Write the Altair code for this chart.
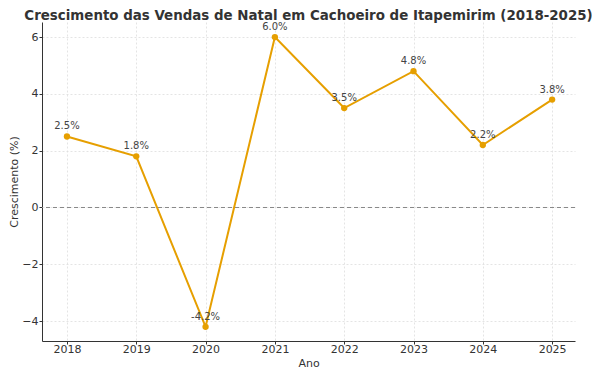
import altair as alt
import pandas as pd

anos = [2018, 2019, 2020, 2021, 2022, 2023, 2024, 2025]
crescimento = [2.5, 1.8, -4.2, 6.0, 3.5, 4.8, 2.2, 3.8]
rotulos = ["2.5%", "1.8%", "-4.2%", "6.0%", "3.5%", "4.8%", "2.2%", "3.8%"]

df = pd.DataFrame({"Ano": anos, "Crescimento": crescimento, "Rotulo": rotulos})
zero = pd.DataFrame({"y": [0]})

COR = "#E69F00"
FONT = "DejaVu Sans"

x = alt.X("Ano:Q", scale=alt.Scale(domain=[2017.64, 2025.33], nice=False, zero=False),
          axis=alt.Axis(values=anos, format="d", title="Ano", labelPadding=-1,
                        titleY=22.5, titleBaseline="middle"))
y = alt.Y("Crescimento:Q", scale=alt.Scale(domain=[-4.70, 6.53], nice=False, zero=False),
          axis=alt.Axis(values=[-4, -2, 0, 2, 4, 6], title="Crescimento (%)",
                        titleX=-28, titleBaseline="middle",
                        labelExpr="replace(datum.label, '-', '−')"))

base = alt.Chart(df)

linha = base.mark_line(color=COR, strokeWidth=2).encode(x=x, y=y)
pontos = base.mark_circle(color=COR, size=40, opacity=1).encode(x=x, y=y)
textos = base.mark_text(dy=-10, fontSize=10, color="#444444", font=FONT).encode(
    x=x, y=y, text="Rotulo:N")
regra = alt.Chart(zero).mark_rule(color="#888888", strokeDash=[4, 3], strokeWidth=1).encode(
    y=alt.Y("y:Q"))

chart = alt.layer(regra, linha, pontos, textos).properties(
    width=533,
    height=319,
    title=alt.TitleParams(
        "Crescimento das Vendas de Natal em Cachoeiro de Itapemirim (2018-2025)",
        fontSize=13.4, fontWeight="bold", font=FONT, color="#333333", anchor="middle", offset=0),
    autosize=alt.AutoSizeParams(type="none"),
    padding={"left": 34, "top": 14, "right": 17, "bottom": 29},
).configure_view(stroke=None).configure_axis(
    labelFont=FONT, titleFont=FONT, labelFontSize=11, titleFontSize=11,
    labelColor="#333333", titleColor="#333333", titleFontWeight="normal",
    gridColor="#dddddd", gridDash=[2, 2], gridWidth=0.8,
    domainColor="#333333", tickColor="#333333", tickSize=3, labelPadding=1,
)

chart.save("out.html", embed_options={"renderer": "svg", "actions": False})
